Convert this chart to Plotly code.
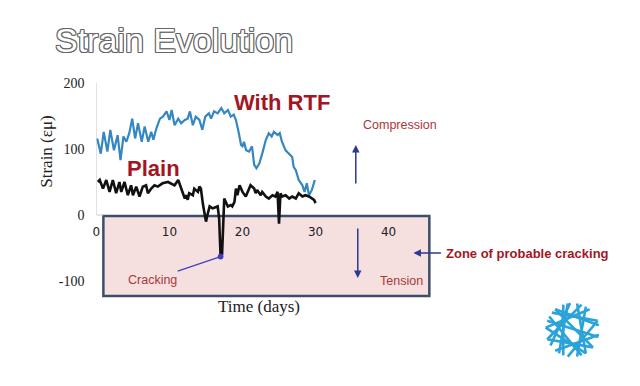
import math
import plotly.graph_objects as go

# ---------------- data ----------------
rtf_days = [0.1, 0.6, 1.0, 1.5, 1.9, 2.4, 2.9, 3.3, 3.7, 4.1, 4.5, 4.9, 5.3, 5.7, 6.2, 6.6, 7.1, 7.5, 7.8, 8.2,
            8.7, 9.1, 9.6, 10.0, 10.3, 10.7, 11.2, 11.6, 12.1, 12.5, 12.8, 13.2, 13.6, 14.1, 14.5, 14.9, 15.4, 15.7, 16.1, 16.6,
            17.1, 17.5, 18.0, 18.4, 18.8, 19.1, 19.5, 19.8, 20.0, 20.2, 20.5, 20.9, 21.3, 21.6, 21.9, 22.3, 22.7, 23.2, 23.6, 24.0,
            24.3, 24.8, 25.1, 25.4, 25.9, 26.3, 26.8, 27.0, 27.3, 27.7, 28.2, 28.5, 28.8, 29.1, 29.5, 29.9]
rtf_strain = [116, 93, 126, 96, 129, 98, 121, 83, 119, 111, 124, 146, 116, 139, 111, 134, 111, 126, 114, 131,
              146, 149, 157, 144, 159, 136, 146, 139, 144, 146, 157, 136, 149, 144, 129, 149, 154, 146, 157, 154,
              162, 154, 159, 149, 152, 144, 124, 106, 104, 111, 98, 96, 104, 76, 71, 78, 93, 114, 124, 119,
              126, 121, 124, 111, 98, 93, 88, 73, 68, 53, 45, 35, 48, 30, 38, 53]

plain_days = [0.2, 0.45, 0.9, 1.35, 1.8, 2.25, 2.7, 3.15, 3.4, 3.85, 4.3, 4.75, 5.0, 5.45, 5.9, 6.35, 6.8, 7.05, 7.5, 7.95,
              8.4, 9.05, 9.8, 10.7, 11.2, 11.6, 12.1, 12.3, 12.5, 12.7, 13.2, 13.4, 13.9, 14.1, 14.3, 14.6, 15.0, 15.2, 15.5, 15.9,
              16.4, 16.6, 16.8, 17.0, 17.2, 17.5, 18.0, 18.4, 18.6, 18.9, 19.1, 19.3, 19.6, 20.0, 20.45, 20.9, 21.1, 21.6, 21.8, 22.0,
              22.5, 22.7, 23.2, 23.6, 24.1, 24.5, 24.8, 25.0, 25.2, 25.4, 25.9, 26.4, 26.8, 27.3, 27.7, 28.2, 28.6, 29.1, 29.5, 29.8, 30.0]
plain_strain = [50, 53, 40, 53, 35, 53, 33, 50, 35, 50, 30, 45, 30, 43, 28, 43, 45, 33, 40, 45,
                43, 48, 50, 45, 53, 40, 25, 30, 23, 33, 30, 40, 35, 43, 40, 15, -10, 0, 13, 10,
                13, 13, -5, -63, -60, 25, 13, 15, 13, 20, 40, 30, 45, 35, 28, 40, 45, 40, 33, 38,
                30, 35, 28, 25, 30, 28, 35, -13, 33, 28, 30, 25, 28, 25, 33, 28, 30, 28, 25, 23, 18]

x_ticks = [0, 10, 20, 30, 40]
y_ticks = [-100, 0, 100, 200]

# ---------------- helpers for decorative placement ----------------
W, H = 640, 386
X0PX, PXPD = 93.0, 7.35       # pixel of day 0, pixels per day
Y0PX, PXPU = 215.0, 0.66      # pixel of strain 0, pixels per unit


def px(x):
    return x / W


def py(y):
    return 1 - y / H


def dday(p):
    return (p - X0PX) / PXPD


def dval(p):
    return (Y0PX - p) / PXPU


fig = go.Figure()

fig.add_trace(go.Scatter(x=rtf_days, y=rtf_strain, mode="lines",
                         line=dict(color="#3587C2", width=2.2), showlegend=False, hoverinfo="skip"))
fig.add_trace(go.Scatter(x=plain_days, y=plain_strain, mode="lines",
                         line=dict(color="#111111", width=2.6), showlegend=False, hoverinfo="skip"))

red = "#A3161F"
soft_red = "#A8383C"
navy = "#2B3A8F"

shapes = []
# tension zone rectangle
shapes.append(dict(type="rect", xref="x", yref="y", layer="below",
                   x0=dday(100), x1=dday(428), y0=dval(216), y1=dval(296),
                   fillcolor="#F5E0DF", line=dict(color="#3E4C6C", width=2.5)))
# y axis line (0..200)
shapes.append(dict(type="line", xref="x", yref="y", layer="below",
                   x0=0, x1=0, y0=0, y1=200, line=dict(color="#C9C9C9", width=1)))
shapes.append(dict(type="line", xref="x", yref="y", layer="below",
                   x0=0, x1=dday(100), y0=0, y1=0, line=dict(color="#C9C9C9", width=1)))

# logo: mesh ball
cx, cy, r = 572, 330, 27
chords = [(95, 215), (110, 250), (130, 10), (150, 290), (175, 300), (200, 320), (230, 350),
          (260, 20), (280, 60), (300, 80), (320, 130), (345, 160), (20, 140), (50, 175), (70, 200), (240, 100)]
logo_c = "#2AA3D9"
for a1, a2 in chords:
    x1 = cx + r * math.cos(math.radians(a1)); y1 = cy - r * math.sin(math.radians(a1))
    x2 = cx + r * math.cos(math.radians(a2)); y2 = cy - r * math.sin(math.radians(a2))
    shapes.append(dict(type="line", xref="paper", yref="paper",
                       x0=px(x1), y0=py(y1), x1=px(x2), y1=py(y2),
                       line=dict(color=logo_c, width=2.6)))


def txt(text, x, y, size, color, family="Liberation Sans", xa="center", **kw):
    d = dict(text=text, xref="paper", yref="paper", x=px(x), y=py(y), xanchor=xa, yanchor="middle",
             showarrow=False, font=dict(family=family, size=size, color=color))
    d.update(kw)
    return d


ann = []
outline = ("1px 1px 0 #666, -1px -1px 0 #666, 1px -1px 0 #666, -1px 1px 0 #666, "
           "0 1px 0 #666, 1px 0 0 #666, 0 -1px 0 #666, -1px 0 0 #666")
ann.append(dict(text="Strain Evolution", xref="paper", yref="paper", x=px(49), y=py(40),
                xanchor="left", yanchor="middle", showarrow=False,
                font=dict(family="Liberation Sans", size=34, color="white", shadow=outline)))
ann.append(txt("Strain (εμ)", 42, 152, 17, "#222", family="Liberation Serif", textangle=-90))
ann.append(txt("Time (days)", 257, 306, 17, "#222", family="Liberation Serif"))
ann.append(txt("<b>With RTF</b>", 280, 102, 22, red))
ann.append(txt("<b>Plain</b>", 150, 168, 22, red))
ann.append(txt("Compression", 398, 125, 12.5, soft_red))
ann.append(txt("Tension", 400, 281, 12.5, soft_red))
ann.append(txt("<b>Zone of probable cracking</b>", 443, 253, 13, red, xa="left"))
# arrows
ann.append(dict(text="", xref="paper", yref="paper", x=px(354), y=py(145), ax=0, ay=40,
                showarrow=True, arrowhead=2, arrowsize=1, arrowwidth=1.5, arrowcolor=navy))
ann.append(dict(text="", xref="paper", yref="paper", x=px(356), y=py(278), ax=0, ay=-51,
                showarrow=True, arrowhead=2, arrowsize=1, arrowwidth=1.5, arrowcolor=navy))
ann.append(dict(text="", xref="paper", yref="paper", x=px(412), y=py(253), ax=29, ay=0,
                showarrow=True, arrowhead=2, arrowsize=1, arrowwidth=1.5, arrowcolor=navy))
# cracking point = minimum of plain series
imin = min(range(len(plain_strain)), key=lambda i: plain_strain[i])
ann.append(dict(text="Cracking", xref="x", yref="y", x=plain_days[imin], y=plain_strain[imin],
                ax=-68, ay=23, showarrow=True, arrowhead=6, arrowsize=1.2, arrowwidth=1.2,
                arrowcolor="#3F3FC0", standoff=0,
                font=dict(family="Liberation Sans", size=12.5, color=soft_red)))

fig.update_layout(
    width=W, height=H, margin=dict(l=0, r=0, t=0, b=0),
    paper_bgcolor="white", plot_bgcolor="rgba(0,0,0,0)",
    shapes=shapes, annotations=ann,
    xaxis=dict(domain=[X0PX / W, 1], range=[0, (W - X0PX) / PXPD],
               anchor="free", position=py(Y0PX),
               tickvals=x_ticks, ticktext=[str(v) for v in x_ticks],
               showgrid=False, zeroline=False, showline=False, ticks="",
               ticklabelstandoff=8,
               tickfont=dict(family="DejaVu Sans", size=12, color="#222")),
    yaxis=dict(domain=[0, 1], range=[dval(H), dval(0)],
               tickvals=y_ticks, ticktext=[str(v) for v in y_ticks],
               showgrid=False, zeroline=False, showline=False, ticks="",
               ticklabelstandoff=11,
               tickfont=dict(family="Liberation Serif", size=14, color="#222")),
)

fig.write_html("out.html", config={"displayModeBar": False},
               post_script="document.body.style.margin='0';document.body.style.overflow='hidden';")
